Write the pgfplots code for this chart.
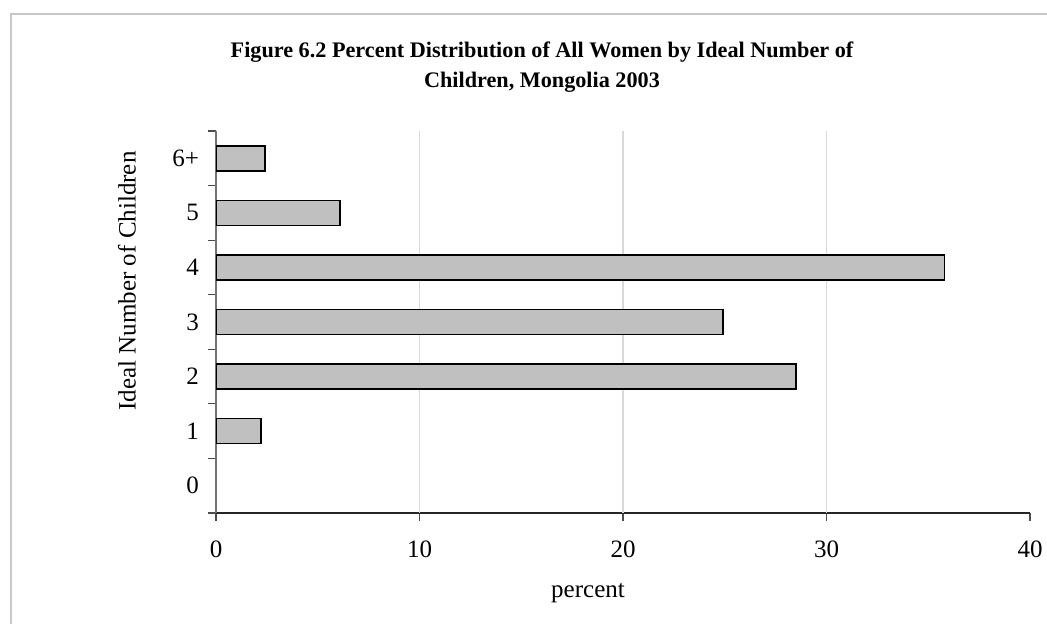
\documentclass[border=0pt]{standalone}
\usepackage{fontspec}
\setmainfont{Liberation Serif}
\usepackage{pgfplots}
\pgfplotsset{compat=1.18}
\definecolor{barfill}{HTML}{C0C0C0}
\definecolor{gridgray}{HTML}{D9D9D9}
\definecolor{framegray}{HTML}{C8C8C8}
\begin{document}
\begin{tikzpicture}
\useasboundingbox (0,0) rectangle (523.5pt,312pt);
\draw[framegray, line width=1.2pt] (5.5pt,0) -- (5.5pt,305pt) -- (523.5pt,305pt);
\begin{axis}[
  at={(108pt,55.5pt)}, anchor=south west,
  scale only axis, width=407pt, height=191pt,
  xbar, bar width=12.5pt,
  xmin=0, xmax=40, ymin=-0.5, ymax=6.5,
  axis lines*=left,
  x axis line style={black!85, line width=0.6pt},
  y axis line style={black!55, line width=0.8pt},
  tick align=outside, tick pos=left,
  xtick={0,10,20,30,40},
  xticklabel style={yshift=-6.5pt},
  ytick={-0.5,0.5,...,6.5}, yticklabels={,,,,,,,},
  major tick length=4pt,
  tick style={black!70, line width=0.6pt},
  extra y ticks={0,1,2,3,4,5,6},
  extra y tick labels={0,1,2,3,4,5,6+},
  extra y tick style={major tick length=0pt, yticklabel style={xshift=-5pt}},
  extra x ticks={10,20,30}, extra x tick labels={},
  extra x tick style={major tick length=0pt, grid=major, major grid style={gridgray, line width=0.7pt}},
  ticklabel style={font=\fontsize{12.5}{15}\selectfont},
  /pgf/number format/assume math mode=true,
]
\addplot[fill=barfill, draw=black, line width=0.8pt] coordinates {(2.2,1) (28.5,2) (24.9,3) (35.8,4) (6.1,5) (2.4,6)};
\end{axis}
\node[font=\fontsize{12.5}{15}\selectfont] at (294pt,15.5pt) {percent};
\node[rotate=90, font=\fontsize{12.5}{15}\selectfont] at (63.5pt,171.5pt) {Ideal Number of Children};
\node[align=center, font=\bfseries\fontsize{11.1}{15}\selectfont] at (271pt,278.5pt) {Figure 6.2 Percent Distribution of All Women by Ideal Number of\\Children, Mongolia 2003};
\end{tikzpicture}
\end{document}
